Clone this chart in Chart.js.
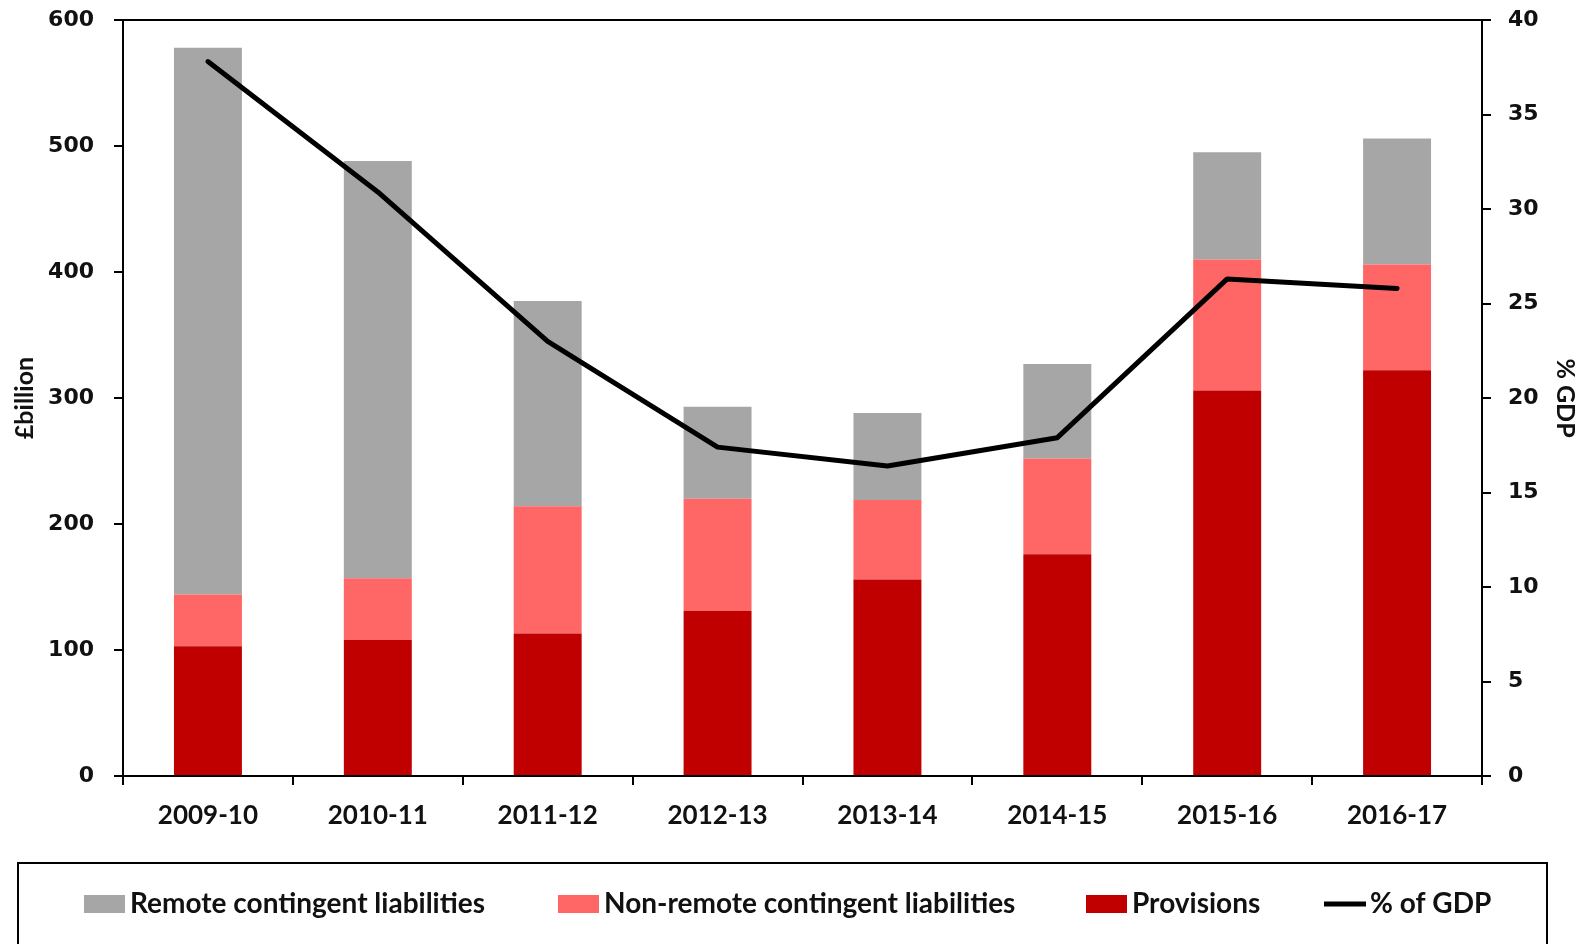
<!DOCTYPE html>
<html>
<head>
<meta charset="utf-8">
<script src="https://cdn.jsdelivr.net/npm/chart.js@4"></script>
<style>
  html, body { margin: 0; padding: 0; background: #fff; }
  canvas { display: block; }
</style>
</head>
<body>
<canvas id="chart" width="1584" height="944"></canvas>
<script>
// Données (£ milliards et % du PIB)
const categories = ['2009-10', '2010-11', '2011-12', '2012-13', '2013-14', '2014-15', '2015-16', '2016-17'];
const provisions = [103, 108, 113, 131, 156, 176, 306, 322];
const nonRemote = [41, 49, 101, 89, 63, 76, 104, 84];
const remote = [434, 331, 163, 73, 69, 75, 85, 100];
const gdpShare = [37.8, 30.9, 23.0, 17.4, 16.4, 17.9, 26.3, 25.8];

const leftMax = 600, leftStep = 100;
const rightMax = 40, rightStep = 5;

const colors = {
    remote: '#a6a6a6',
    nonRemote: '#ff6666',
    provisions: '#c00000',
    gdp: '#000000'
};

const tickFont = { family: 'DejaVu Sans', weight: 'bold', size: 22 };
const labelFont = { family: 'Lato', weight: 'bold', size: 26 };

// Bordure du haut + légende encadrée en bas
const framePlugin = {
    id: 'frame',
    afterDraw(chart) {
        const ctx = chart.ctx;
        const a = chart.chartArea;
        ctx.save();
        ctx.strokeStyle = '#000';
        ctx.lineWidth = 2;
        ctx.beginPath();
        ctx.moveTo(a.left, a.top);
        ctx.lineTo(a.right + 9, a.top);
        ctx.stroke();

        ctx.strokeRect(18, 863, 1529, 120);

        const order = [2, 1, 0, 3];
        const xs = [84, 558, 1086, 1324];
        const cy = 904;
        ctx.font = 'bold 28px Lato';
        ctx.textBaseline = 'middle';
        order.forEach((di, i) => {
            const ds = chart.data.datasets[di];
            const x = xs[i];
            if (ds.type === 'line') {
                ctx.strokeStyle = ds.borderColor;
                ctx.lineWidth = 5;
                ctx.beginPath();
                ctx.moveTo(x, cy);
                ctx.lineTo(x + 42, cy);
                ctx.stroke();
            } else {
                ctx.fillStyle = ds.backgroundColor;
                ctx.fillRect(x, cy - 9, 41, 18);
            }
            ctx.fillStyle = '#111';
            ctx.fillText(ds.label, x + 46, cy);
        });
        ctx.restore();
    }
};

// Largeur fixe des axes verticaux, sans marge haute automatique
function fitVertical(width) {
    return s => {
        s.width = width;
        s.paddingTop = 0;
        s.paddingBottom = 0;
    };
}

const ctx = document.getElementById('chart').getContext('2d');
new Chart(ctx, {
    data: {
        labels: categories,
        datasets: [
            { type: 'bar', label: 'Provisions', data: provisions, backgroundColor: colors.provisions, yAxisID: 'y', order: 1 },
            { type: 'bar', label: 'Non-remote contingent liabilities', data: nonRemote, backgroundColor: colors.nonRemote, yAxisID: 'y', order: 1 },
            { type: 'bar', label: 'Remote contingent liabilities', data: remote, backgroundColor: colors.remote, yAxisID: 'y', order: 1 },
            {
                type: 'line', label: '% of GDP', data: gdpShare, yAxisID: 'y1', order: 0,
                borderColor: colors.gdp, backgroundColor: colors.gdp, borderWidth: 5,
                pointRadius: 0, tension: 0, borderCapStyle: 'round', borderJoinStyle: 'round'
            }
        ]
    },
    options: {
        responsive: false,
        animation: false,
        barPercentage: 0.4,
        categoryPercentage: 1,
        layout: { padding: { top: 20 } },
        plugins: {
            legend: { display: false },
            tooltip: { enabled: false }
        },
        scales: {
            x: {
                stacked: true,
                afterFit: s => { s.height = 168; },
                border: { color: '#000', width: 2 },
                grid: { drawOnChartArea: false, tickLength: 9, color: '#000', lineWidth: 2 },
                ticks: { font: labelFont, color: '#111', padding: 15, maxRotation: 0 }
            },
            y: {
                stacked: true,
                position: 'left',
                min: 0, max: leftMax,
                afterFit: fitVertical(123),
                border: { color: '#000', width: 2 },
                grid: { drawOnChartArea: false, tickLength: 9, color: '#000', lineWidth: 2 },
                ticks: { stepSize: leftStep, font: tickFont, color: '#111', padding: 20 },
                title: { display: true, text: '£billion', font: { family: 'Lato', weight: 'bold', size: 25 }, color: '#111', padding: { top: 10, bottom: 0 } }
            },
            y1: {
                position: 'right',
                min: 0, max: rightMax,
                afterFit: fitVertical(102),
                border: { color: '#000', width: 2 },
                grid: { drawOnChartArea: false, tickLength: 9, color: '#000', lineWidth: 2 },
                ticks: { stepSize: rightStep, font: tickFont, color: '#111', padding: 17 },
                title: { display: true, text: '% GDP', font: { family: 'Lato', weight: 'bold', size: 25 }, color: '#111', padding: { top: 4, bottom: 0 } }
            }
        }
    },
    plugins: [framePlugin]
});
</script>
</body>
</html>
